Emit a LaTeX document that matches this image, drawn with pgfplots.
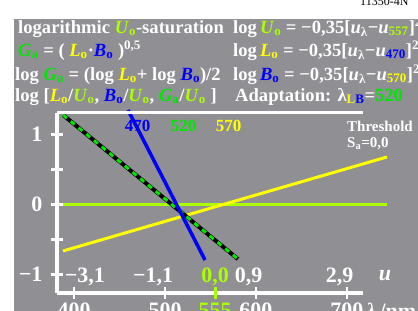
\documentclass[border=0pt]{standalone}
\usepackage{pgfplots}
\pgfplotsset{compat=1.18}
\usepackage{fontspec}
\setmainfont{Liberation Serif}
\definecolor{bg}{RGB}{143,143,148}
\definecolor{ug}{RGB}{170,255,0}
\definecolor{gg}{RGB}{0,230,0}
\definecolor{yy}{RGB}{255,255,0}
\definecolor{bb}{RGB}{0,0,255}
\newcommand{\U}{{\color{ug}\textit{U}\textsubscript{o}}}
\newcommand{\Lo}{{\color{yy}\textit{L}\textsubscript{o}}}
\newcommand{\Bo}{{\color{bb}\textit{B}\textsubscript{o}}}
\newcommand{\Ga}{{\color{gg}\textit{G}\textsubscript{a}}}
\newcommand{\hf}{\fontsize{18.6bp}{22bp}\selectfont\bfseries}
\begin{document}
\begin{tikzpicture}[x=1bp,y=1bp]
\fill[bg] (14,0) rectangle (418,292);
\node[anchor=base west, inner sep=0, font=\fontsize{12bp}{12bp}\selectfont] at (360,306) {11350-4N};
\begin{scope}[every node/.style={anchor=base west, inner sep=0, text=white, font=\hf}]
\node at (18,278) {logarithmic \U-saturation};
\node at (233,278) {log\,\U{} = −0,35[\textit{u}\textsubscript{λ}−\textit{u}\textsubscript{\color{ug}557}]\textsuperscript{2}};
\node at (18,255) {\Ga{} = ( \Lo·\Bo{} )\textsuperscript{0,5}};
\node at (233,255) {log\,\Lo{} = −0,35[\textit{u}\textsubscript{λ}−\textit{u}\textsubscript{\color{bb}470}]\textsuperscript{2}};
\node at (15,231) {log \Ga{} = (log \Lo{}+ log \Bo)/2};
\node at (233,231) {log\,\Bo{} = −0,35[\textit{u}\textsubscript{λ}−\textit{u}\textsubscript{\color{yy}570}]\textsuperscript{2}};
\node at (15,210) {log [\Lo/\U, \Bo/\U, \Ga/\U{} ]};
\node at (235,210) {Adaptation: λ\textsubscript{\color{yy}L\color{bb}B}={\color{gg}520}};
\end{scope}
\begin{axis}[at={(57bp,18bp)}, anchor=south west, scale only axis,
 width=306bp, height=180bp,
 xmin=381.3, xmax=717.6, ymin=-1.264, ymax=1.307, clip=false,
 axis x line*=bottom, axis y line*=left,
 axis line style={white, line width=3bp},
 xtick={400,500,600,700}, xticklabels={400,500,600,700},
 extra x ticks={555}, extra x tick labels={555},
 extra x tick style={major tick style={ug, line width=3bp}, xticklabel style={text=ug}},
 ytick={-1,-0.5,0,0.5,1}, yticklabels={−1,,0,,1},
 tick align=center, major tick length=11bp,
 major tick style={white, line width=2.5bp},
 ticklabel style={font=\fontsize{22bp}{22bp}\selectfont\bfseries, text=white, inner sep=0},
 xticklabel style={anchor=north, yshift=-4bp},
 yticklabel style={anchor=east, xshift=-9bp},
]
\addplot[ug, line width=3bp] coordinates {(387.9,0) (744,0)};
\addplot[yy, line width=3bp] coordinates {(387.9,-0.664) (744,0.679)};
\addplot[black, line width=4bp] coordinates {(388,1.279) (580.2,-0.779)};
\addplot[gg, line width=3bp, dash pattern=on 5bp off 5bp] coordinates {(388,1.279) (580.2,-0.779)};
\addplot[bb, line width=3.5bp] coordinates {(459.3,1.35) (544,-0.793)};
\draw[white, line width=3bp] (rel axis cs:0,1) -- (rel axis cs:1,1);
\begin{scope}[every node/.style={anchor=base, inner sep=0, font=\fontsize{17bp}{17bp}\selectfont\bfseries}]
\node[text=bb] at (axis cs:470,1.036) {470};
\node[text=gg] at (axis cs:520.5,1.036) {520};
\node[text=yy] at (axis cs:570,1.036) {570};
\end{scope}
\begin{scope}[every node/.style={anchor=base, inner sep=0, text=white, font=\fontsize{22bp}{22bp}\selectfont\bfseries}]
\node at (axis cs:412,-1.107) {−3,1};
\node at (axis cs:487,-1.107) {−1,1};
\node[text=ug] at (axis cs:555,-1.107) {0,0};
\node at (axis cs:592,-1.107) {0,9};
\node at (axis cs:692,-1.107) {2,9};
\end{scope}
\end{axis}
\node[anchor=base, inner sep=0, text=white, font=\fontsize{22bp}{22bp}\selectfont\bfseries\itshape] at (385,31) {u};
\node[anchor=base west, inner sep=0, text=white, font=\fontsize{22bp}{22bp}\selectfont\bfseries] at (366,-7) {\textit{λ}\,/nm};
\node[anchor=base west, inner sep=0, text=white, font=\fontsize{15bp}{15bp}\selectfont\bfseries] at (347,180) {Threshold};
\node[anchor=base west, inner sep=0, text=white, font=\fontsize{15bp}{15bp}\selectfont\bfseries] at (347,164) {S\textsubscript{a}=0,0};
\pgfresetboundingbox
\path[use as bounding box] (0,0) rectangle (418,311);
\end{tikzpicture}
\end{document}
